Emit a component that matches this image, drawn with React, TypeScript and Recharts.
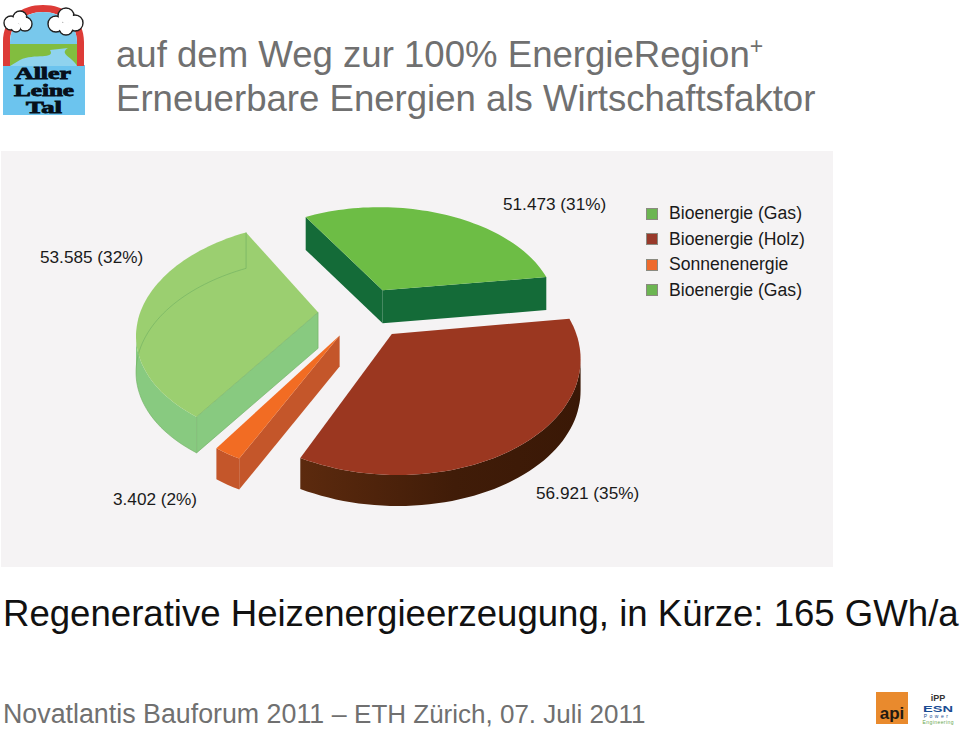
import { Legend, Pie, PieChart } from 'recharts';

const SOURCES = ['Bioenergie (Gas)', 'Bioenergie (Holz)', 'Sonnenenergie', 'Bioenergie (Gas)'];
const VALUES = [51473, 56921, 3402, 53585];
const SLICE_LABELS = ['51.473 (31%)', '56.921 (35%)', '3.402 (2%)', '53.585 (32%)'];

const TOP = ['#6dbd45', '#9b3720', '#f26c23', '#9bcf70'];
const SIDE = ['#146b38', '#3a1a08', '#c4562a', '#88ca80'];
const LEGEND_FILL = ['#6cb552', '#98392a', '#ee6a2c', '#6cb552'];
const EXPLODE = [54, 44, 38, 38];
// extra screen shift and wall height of each slice
const SHIFT = [[5, 5], [10, -1], [4, 2], [1, 0]];
const WALL = [33, 31, 31, 36];
const LABEL_POS = [[503, 210], [536, 499], [113, 505], [40, 263]];

const FOCAL = 1000;
const SQUASH = 0.6;

const rows = VALUES.map((value, i) => ({ name: SOURCES[i], value, slice: i, fill: LEGEND_FILL[i] }));

type Pt = [number, number];

function SliceShape(props: any) {
  const { cx, cy, outerRadius, startAngle, endAngle, slice } = props;
  const rad = (d: number) => (d * Math.PI) / 180;
  const mid = rad((startAngle + endAngle) / 2);
  const e = EXPLODE[slice];
  const ou = e * Math.cos(mid);
  const ov = e * Math.sin(mid);
  const [sx, sy] = SHIFT[slice];
  const project = (u: number, v: number, down: number): Pt => {
    const pu = u + ou;
    const pv = v + ov;
    const k = FOCAL / (FOCAL + pv);
    return [cx + sx + pu * k, cy + sy - pv * SQUASH * k + down];
  };

  const arc = (down: number) => {
    const pts: Pt[] = [];
    const n = Math.max(3, Math.ceil(Math.abs(endAngle - startAngle) / 2));
    for (let i = 0; i <= n; i++) {
      const a = rad(startAngle + ((endAngle - startAngle) * i) / n);
      pts.push(project(outerRadius * Math.cos(a), outerRadius * Math.sin(a), down));
    }
    return pts;
  };

  const d = (pts: Pt[]) =>
    'M' + pts.map(p => `${p[0].toFixed(1)} ${p[1].toFixed(1)}`).join('L') + 'Z';

  const topArc = arc(0);
  const botArc = arc(WALL[slice]);
  const apex = project(0, 0, 0);
  const apexB = project(0, 0, WALL[slice]);
  const first = topArc[0];
  const firstB = botArc[0];
  const last = topArc[topArc.length - 1];
  const lastB = botArc[botArc.length - 1];

  // outer wall: only the run of segments facing the viewer
  const wallTop: Pt[] = [];
  const wallBot: Pt[] = [];
  topArc.forEach((p, i) => {
    const next = topArc[i + 1];
    const prev = topArc[i - 1];
    if ((next && next[0] < p[0]) || (prev && p[0] < prev[0])) {
      wallTop.push(p);
      wallBot.push(botArc[i]);
    }
  });

  const side = slice === 1 ? 'url(#holzWall)' : SIDE[slice];
  return (
    <g>
      {slice === 1 && (
        <defs>
          <linearGradient id="holzWall" x1="0" y1="0" x2="1" y2="0">
            <stop offset="0%" stopColor="#5c2a0e" />
            <stop offset="55%" stopColor="#401c08" />
            <stop offset="100%" stopColor="#3a1806" />
          </linearGradient>
        </defs>
      )}
      {first[0] < apex[0] && <path d={d([apex, first, firstB, apexB])} fill={SIDE[slice]} />}
      {last[0] > apex[0] && <path d={d([last, apex, apexB, lastB])} fill={SIDE[slice]} />}
      {wallTop.length > 1 && <path d={d([...wallTop, ...wallBot.reverse()])} fill={side} />}
      <path d={d([apex, ...topArc])} fill={TOP[slice]} />
      {slice === 3 && (
        <g fill="none" stroke="#6fae62" strokeWidth={0.8} strokeOpacity={0.75}>
          <path d={'M' + [apexB, ...botArc].map(p => `${p[0]} ${p[1]}`).join('L')} />
          <path d={`M${apex[0]} ${apex[1]}L${apexB[0]} ${apexB[1]}`} />
          <path d={`M${apex[0]} ${apex[1]}L${first[0]} ${first[1]}L${firstB[0]} ${firstB[1]}`} />
          <path d={`M${last[0]} ${last[1]}L${lastB[0]} ${lastB[1]}`} />
        </g>
      )}
    </g>
  );
}

function SliceLabel(props: any) {
  const [x, y] = LABEL_POS[props.index];
  return (
    <text x={x} y={y} fontSize={17.2} fill="#1a1a1a" fontFamily="Liberation Sans">
      {SLICE_LABELS[props.index]}
    </text>
  );
}

function LegendList() {
  return (
    <div style={{ fontFamily: 'Liberation Sans', fontSize: 17.6, color: '#1a1a1a' }}>
      {SOURCES.map((name, i) => (
        <div key={i} style={{ display: 'flex', alignItems: 'center', height: 25.5 }}>
          <span
            style={{
              width: 10,
              height: 10,
              marginRight: 11,
              background: LEGEND_FILL[i],
              border: '1px solid #8a8a80',
            }}
          />
          {name}
        </div>
      ))}
    </div>
  );
}

function Cloud({ parts }: { parts: number[][] }) {
  return (
    <g>
      {parts.map(([x, y, r], i) => (
        <circle key={i} cx={x} cy={y} r={r} fill="#fff" stroke="#222" strokeWidth={1.4} />
      ))}
      {parts.map(([x, y, r], i) => (
        <circle key={i} cx={x} cy={y} r={r - 1} fill="#fff" />
      ))}
    </g>
  );
}

function AllerLogo() {
  return (
    <svg style={{ position: 'absolute', left: 0, top: 0 }} width={90} height={122}>
      <rect x={3} y={65} width={82} height={50} fill="#6cc4ee" />
      <path d="M3 66V42C3 18 21 5 43 5S84 18 84 42V66H77V42C77 24 62 12 43 12S10 24 10 42V66Z" fill="#dd3b37" />
      <path d="M10 66V42C10 24 25 12 43 12S77 24 77 42V66Z" fill="#78c8ec" />
      <rect x={10} y={44} width={67} height={22} fill="#82bd3f" />
      <path d="M20 60C34 53 56 60 50 50L68 48C58 54 74 58 77 66H10Z" fill="#8fd3ee" />
      <Cloud parts={[[11, 23, 7], [20, 18, 7], [25, 24, 7], [16, 27, 5]]} />
      <Cloud parts={[[56, 24, 8], [66, 16, 8], [75, 23, 8], [66, 28, 7]]} />
      <g
        fontFamily="Liberation Serif"
        fontWeight="bold"
        fontSize={16}
        fill="#06101a"
        stroke="#06101a"
        strokeWidth={0.8}
        textAnchor="middle"
      >
        <text x={43} y={79} textLength={56} lengthAdjust="spacingAndGlyphs">Aller</text>
        <text x={44} y={96} textLength={60} lengthAdjust="spacingAndGlyphs">Leine</text>
        <text x={44} y={113} textLength={36} lengthAdjust="spacingAndGlyphs">Tal</text>
      </g>
    </svg>
  );
}

function PartnerLogos() {
  return (
    <svg style={{ position: 'absolute', left: 870, top: 686 }} width={90} height={43}>
      <rect x={6} y={6} width={32} height={32} fill="#e98a2d" />
      <text x={22} y={33} fontSize={17} fontWeight="bold" textAnchor="middle" fill="#231a12" fontFamily="Liberation Sans">
        api
      </text>
      <text x={68} y={15} fontSize={9} fontWeight="bold" textAnchor="middle" fill="#333" fontFamily="Liberation Sans">
        iPP
      </text>
      <text x={68} y={25.5} fontSize={9} fontWeight="bold" textAnchor="middle" fill="#1b4d93" fontFamily="Liberation Sans" textLength={30} lengthAdjust="spacingAndGlyphs">
        ESN
      </text>
      <text x={67} y={32} fontSize={5} textAnchor="middle" letterSpacing={2.5} fill="#1b4d93" fontFamily="Liberation Sans">
        Power
      </text>
      <text x={68} y={38} fontSize={5} textAnchor="middle" fill="#6aa84f" fontFamily="Liberation Sans" textLength={31}>
        Engineering
      </text>
    </svg>
  );
}

const textBase = {
  position: 'absolute' as const,
  fontFamily: 'Liberation Sans',
  whiteSpace: 'nowrap' as const,
  lineHeight: 1,
};

export default function App() {
  return (
    <div style={{ position: 'absolute', left: 0, top: 0, width: 960, height: 729, overflow: 'hidden', background: '#fff' }}>
      <AllerLogo />
      <div style={{ ...textBase, left: 116, top: 37, fontSize: 36.6, color: '#707070' }}>
        auf dem Weg zur 100% EnergieRegion<sup style={{ fontSize: 23, lineHeight: 0 }}>+</sup>
      </div>
      <div style={{ ...textBase, left: 116, top: 81, fontSize: 36.6, color: '#707070' }}>
        Erneuerbare Energien als Wirtschaftsfaktor
      </div>
      <div style={{ position: 'absolute', left: 1, top: 151, width: 832, height: 416, background: '#f5f3f4' }} />
      <div style={{ position: 'absolute', left: 0, top: 0 }}>
        <PieChart width={960} height={729} margin={{ top: 0, right: 0, bottom: 0, left: 0 }}>
          <Pie
            data={rows}
            dataKey="value"
            nameKey="name"
            cx={355}
            cy={313}
            outerRadius={178}
            startAngle={120}
            endAngle={-240}
            stroke="none"
            isAnimationActive={false}
            shape={SliceShape}
            label={SliceLabel}
            labelLine={false}
          />
          <Legend
            content={<LegendList />}
            wrapperStyle={{ position: 'absolute', left: 646, top: 201, width: 180, bottom: 'auto' }}
          />
        </PieChart>
      </div>
      <div style={{ ...textBase, left: 3, top: 596, fontSize: 36.6, color: '#111' }}>
        Regenerative Heizenergieerzeugung, in Kürze: 165 GWh/a
      </div>
      <div style={{ ...textBase, left: 3, top: 701, fontSize: 26.8, color: '#707070' }}>
        Novatlantis Bauforum 2011 – <span style={{ fontSize: 26 }}>ETH Zürich, 07. Juli 2011</span>
      </div>
      <PartnerLogos />
    </div>
  );
}
